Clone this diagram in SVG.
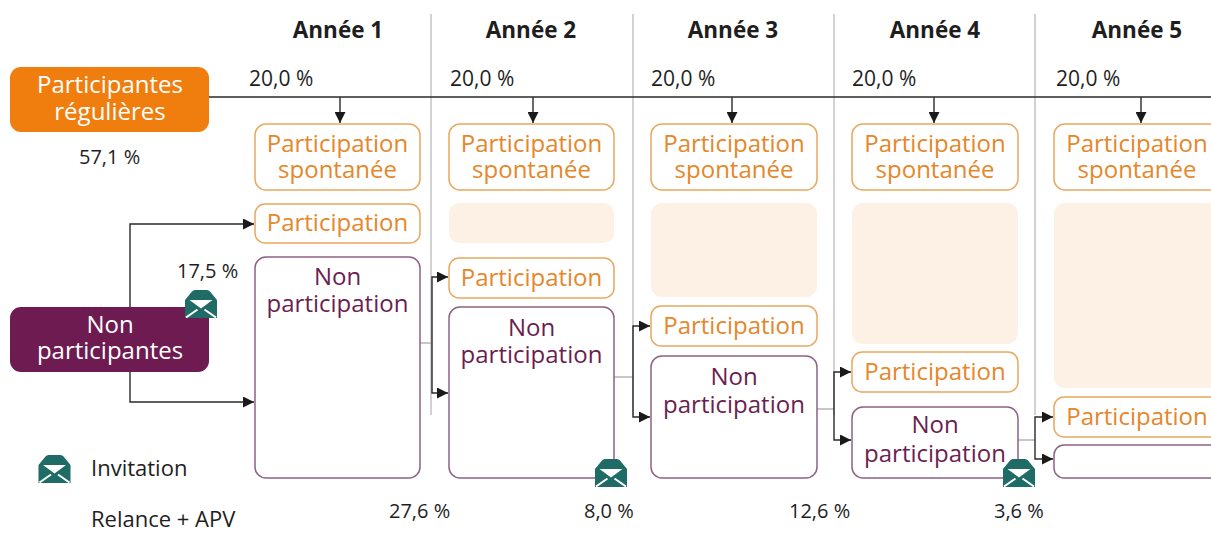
<svg xmlns="http://www.w3.org/2000/svg" width="1211" height="533" viewBox="0 0 1211 533">
  <defs>
    <style>
      text { font-family: "Open Sans", "Noto Sans", "Liberation Sans", sans-serif; }
      .hdr { font-size: 22.5px; font-weight: bold; fill: #1e1e1e; text-anchor: middle; }
      .pct { font-size: 20px; fill: #1e1e1e; }
      .pcth { font-size: 21px; fill: #1e1e1e; }
      .lbl { font-size: 22px; fill: #1e1e1e; }
      .white { font-size: 24px; fill: #ffffff; text-anchor: middle; }
      .to { font-size: 24px; fill: #E5872A; text-anchor: middle; }
      .tp { font-size: 24px; fill: #6B1F51; text-anchor: middle; }
      .bo { fill: #ffffff; stroke: #E9A85F; stroke-width: 1.5; }
      .bp { fill: #ffffff; stroke: #8E6283; stroke-width: 1.5; }
      .ph { fill: #FDF1E6; }
      .div { stroke: #B4B4B4; stroke-width: 1.2; fill: none; }
      .cg { stroke: #B4B4B4; stroke-width: 1.5; fill: none; }
      .c { stroke: #2a2a2a; stroke-width: 1.4; fill: none; marker-end: url(#arr); }
      .cn { stroke: #2a2a2a; stroke-width: 1.4; fill: none; }
    </style>
    <marker id="arr" viewBox="0 0 10 10" refX="10" refY="5" markerWidth="11" markerHeight="11" markerUnits="userSpaceOnUse" orient="auto">
      <path d="M0,0 L10,5 L0,10 Z" fill="#1a1a1a"/>
    </marker>
    <symbol id="env" viewBox="0 0 32 28">
      <path d="M0,10 L7,1.5 Q8.2,0 10,0 L22,0 Q23.8,0 25,1.5 L32,10 L32,28 L0,28 Z" fill="#1F6B66"/>
      <path d="M4.5,10 L27.5,10 L16,18.5 Z" fill="#ffffff"/>
      <path d="M1,27.5 L12.5,19.5 M31,27.5 L19.5,19.5" stroke="#ffffff" stroke-width="2" fill="none"/>
    </symbol>
  </defs>

  <rect x="0" y="0" width="1211" height="533" fill="#ffffff"/>

  <g id="dividers">
    <line class="div" x1="431" y1="14" x2="431" y2="415"/>
    <line class="div" x1="633" y1="14" x2="633" y2="415"/>
    <line class="div" x1="834" y1="14" x2="834" y2="415"/>
    <line class="div" x1="1035" y1="14" x2="1035" y2="415"/>
  </g>

  <g id="headers">
    <text class="hdr" x="338" y="38">Année 1</text>
    <text class="hdr" x="531" y="38">Année 2</text>
    <text class="hdr" x="733" y="38">Année 3</text>
    <text class="hdr" x="935" y="38">Année 4</text>
    <text class="hdr" x="1137" y="38">Année 5</text>
    <text class="pcth" x="249" y="86">20,0 %</text>
    <text class="pcth" x="450" y="86">20,0 %</text>
    <text class="pcth" x="651" y="86">20,0 %</text>
    <text class="pcth" x="852" y="86">20,0 %</text>
    <text class="pcth" x="1056" y="86">20,0 %</text>
  </g>

  <g id="connectors">
    <path class="cn" d="M208,97 H1211"/>
    <path class="c" d="M340,97 V123"/>
    <path class="c" d="M533,97 V123"/>
    <path class="c" d="M732,97 V123"/>
    <path class="c" d="M934,97 V123"/>
    <path class="c" d="M1141,97 V123"/>
    <path class="c" d="M130,320 V224 H254"/>
    <path class="c" d="M130,360 V402 H254"/>
    <path class="cg" d="M420,343 H432"/>
    <path class="c" d="M432,343 V277 H448"/>
    <path class="c" d="M432,343 V393 H448"/>
    <path class="cg" d="M614,377 H633"/>
    <path class="c" d="M633,377 V326 H650"/>
    <path class="c" d="M633,377 V417 H650"/>
    <path class="cg" d="M817,409 H834"/>
    <path class="c" d="M834,409 V372 H851"/>
    <path class="c" d="M834,409 V440 H851"/>
    <path class="cg" d="M1018,440 H1035"/>
    <path class="c" d="M1035,440 V417 H1053"/>
    <path class="c" d="M1035,440 V459 H1053"/>
  </g>

  <g id="participantes-regulieres">
    <rect x="10" y="67" width="199" height="65" rx="11" fill="#EF7E0E"/>
    <text class="white" x="110" y="93">Participantes<tspan x="110" y="120">régulières</tspan></text>
    <text class="pct" x="79" y="164">57,1 %</text>
  </g>

  <g id="non-participantes">
    <rect x="10" y="307" width="199" height="65" rx="11" fill="#6E1B51"/>
    <text class="white" x="110" y="333">Non<tspan x="110" y="359">participantes</tspan></text>
    <text class="pct" x="177" y="278">17,5 %</text>
    <use href="#env" x="185" y="290" width="32" height="28"/>
  </g>

  <g id="annee1">
    <rect class="bo" x="255" y="124" width="165" height="66" rx="11"/>
    <text class="to" x="337.5" y="152">Participation<tspan x="337.5" y="178">spontanée</tspan></text>
    <rect class="bo" x="255" y="204" width="165" height="39" rx="10"/>
    <text class="to" x="337.5" y="231">Participation</text>
    <rect class="bp" x="255" y="257" width="165" height="221" rx="11"/>
    <text class="tp" x="337.5" y="285">Non<tspan x="337.5" y="312">participation</tspan></text>
    <text class="pct" x="389" y="518">27,6 %</text>
  </g>

  <g id="annee2">
    <rect class="bo" x="449" y="124" width="165" height="66" rx="11"/>
    <text class="to" x="531.5" y="152">Participation<tspan x="531.5" y="178">spontanée</tspan></text>
    <rect class="ph" x="449" y="203" width="165" height="40" rx="10"/>
    <rect class="bo" x="449" y="258" width="165" height="40" rx="10"/>
    <text class="to" x="531.5" y="286">Participation</text>
    <rect class="bp" x="449" y="307" width="165" height="171" rx="11"/>
    <text class="tp" x="531.5" y="336">Non<tspan x="531.5" y="363">participation</tspan></text>
    <use href="#env" x="595" y="459" width="32" height="28"/>
    <text class="pct" x="584" y="518">8,0 %</text>
  </g>

  <g id="annee3">
    <rect class="bo" x="651" y="124" width="166" height="66" rx="11"/>
    <text class="to" x="734" y="152">Participation<tspan x="734" y="178">spontanée</tspan></text>
    <rect class="ph" x="651" y="203" width="166" height="94" rx="11"/>
    <rect class="bo" x="651" y="306" width="166" height="40" rx="10"/>
    <text class="to" x="734" y="334">Participation</text>
    <rect class="bp" x="651" y="356" width="166" height="122" rx="11"/>
    <text class="tp" x="734" y="385">Non<tspan x="734" y="413">participation</tspan></text>
    <text class="pct" x="789" y="518">12,6 %</text>
  </g>

  <g id="annee4">
    <rect class="bo" x="852" y="124" width="166" height="66" rx="11"/>
    <text class="to" x="935" y="152">Participation<tspan x="935" y="178">spontanée</tspan></text>
    <rect class="ph" x="852" y="203" width="166" height="141" rx="11"/>
    <rect class="bo" x="852" y="352" width="166" height="40" rx="10"/>
    <text class="to" x="935" y="380">Participation</text>
    <rect class="bp" x="852" y="407" width="166" height="71" rx="11"/>
    <text class="tp" x="935" y="433">Non<tspan x="935" y="462">participation</tspan></text>
    <use href="#env" x="1003" y="459" width="32" height="28"/>
    <text class="pct" x="994" y="518">3,6 %</text>
  </g>

  <g id="annee5">
    <rect class="bo" x="1054" y="124" width="166" height="66" rx="11"/>
    <text class="to" x="1137" y="152">Participation<tspan x="1137" y="178">spontanée</tspan></text>
    <rect class="ph" x="1054" y="203" width="166" height="185" rx="11"/>
    <rect class="bo" x="1054" y="397" width="166" height="40" rx="10"/>
    <text class="to" x="1137" y="425">Participation</text>
    <rect class="bp" x="1054" y="445" width="166" height="33" rx="10"/>
  </g>

  <g id="legende">
    <use href="#env" x="38" y="455" width="33" height="28"/>
    <text class="lbl" x="91" y="476">Invitation</text>
    <text class="lbl" x="91" y="527">Relance + APV</text>
  </g>
</svg>
